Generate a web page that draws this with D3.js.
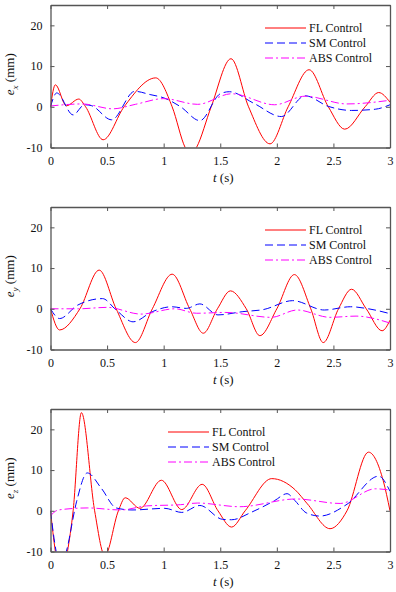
<!DOCTYPE html>
<html>
<head>
<meta charset="utf-8">
<script src="https://cdn.jsdelivr.net/npm/d3@7"></script>
<style>
  body { margin: 0; background: #fff; }
  svg text { font-family: "Liberation Serif", "Times New Roman", "DejaVu Serif", serif; }
</style>
</head>
<body>
<svg id="chart" width="396" height="592"></svg>
<script>
// series names and tick labels
const seriesNames = ["FL Control", "SM Control", "ABS Control"];
const xTicks = [0, 0.5, 1, 1.5, 2, 2.5, 3];
const yTicks = [-10, 0, 10, 20];

// e_x panel, [t (s), error (mm)]
const exFL = [[0,0],[0.043,5.4],[0.14,0.25],[0.25,1.9],[0.31,0],[0.465,-8.1],[0.65,0],[0.93,7.1],
  [1.075,0],[1.19,-10],[1.24,-12],[1.29,-10],[1.42,0],[1.595,11.8],[1.75,0],[1.94,-9.1],[2.1,0],
  [2.285,9.1],[2.455,0],[2.6,-5.5],[2.78,0],[2.9,3.5],[3.0,1.1]];
const exSM = [[0,0],[0.055,3.4],[0.2,-2],[0.3,0.5],[0.36,0.3],[0.54,-3.2],[0.745,3.8],[0.88,3.0],
  [1.01,2.1],[1.15,0],[1.32,-3.4],[1.5,3.2],[1.58,3.7],[1.8,0.8],[2.04,-2.4],[2.25,2.7],
  [2.455,0.1],[2.66,-0.9],[2.87,-0.6],[3.0,0.5]];
const exABS = [[0,0.2],[0.28,0.7],[0.55,-0.5],[0.75,0.6],[1.0,2.0],[1.3,0.6],[1.6,3.2],[1.98,0.5],
  [2.25,2.6],[2.62,0.7],[3.0,1.6]];

// e_y panel
const eyFL = [[0,0],[0.08,-5.2],[0.26,0],[0.43,9.5],[0.58,0],[0.75,-8.3],[0.9,0],[1.075,8.5],
  [1.23,0],[1.35,-6],[1.475,0],[1.59,4.4],[1.73,0],[1.85,-6.6],[2.0,0],[2.155,8.4],[2.3,0],
  [2.41,-8.3],[2.545,0],[2.66,4.8],[2.79,0],[2.93,-5.4],[3.0,-2.8]];
const eySM = [[0,0],[0.08,-2.4],[0.24,0.9],[0.46,2.5],[0.58,-0.3],[0.73,-3.2],[0.9,-0.7],
  [1.07,0.5],[1.2,0.1],[1.32,1.2],[1.48,-1.5],[1.7,-0.7],[1.88,-0.2],[2.14,2.0],[2.42,-0.3],
  [2.65,0.5],[2.81,0],[3.0,-1.2]];
const eyABS = [[0,0],[0.25,0],[0.5,0.35],[0.8,-1.3],[1.1,0],[1.29,-1.1],[1.55,-0.9],[1.95,-2.1],
  [2.18,-0.3],[2.47,-2.1],[2.7,-1.8],[3.0,-3.5]];

// e_z panel
const ezFL = [[0,0],[0.043,-10],[0.095,-17],[0.15,-10],[0.2,0],[0.273,24.1],[0.39,0],[0.48,-11],
  [0.6,0],[0.66,3.2],[0.79,0.6],[0.98,7.5],[1.16,0.3],[1.34,6.5],[1.48,0],[1.6,-4.0],[1.72,0],
  [1.955,7.9],[2.16,5.2],[2.27,1.7],[2.47,-4.4],[2.62,0],[2.81,14.4],[2.94,7.4],[3.0,0]];
const ezSM = [[0,0],[0.05,-10],[0.09,-14],[0.14,-10],[0.23,2.2],[0.325,9.3],[0.45,5.5],[0.58,0.7],
  [0.72,0.2],[1.01,0.6],[1.16,-0.4],[1.32,1.3],[1.52,-2.1],[1.6,-2.2],[1.78,-0.3],[1.98,2.5],
  [2.09,4.2],[2.16,2.5],[2.26,-0.5],[2.38,-1.3],[2.62,1.6],[2.9,8.5],[3.0,4.8]];
const ezABS = [[0,-1.2],[0.07,0.2],[0.33,0.7],[0.62,0.2],[0.85,1.2],[1.15,1.5],[1.3,1.9],
  [1.67,1.0],[2.17,2.9],[2.56,1.8],[2.87,5.4],[3.0,5.1]];

const svg = d3.select("#chart");
const serif = '"Liberation Serif", "Times New Roman", "DejaVu Serif", serif';
const colors = ["#ff0000", "#0000ff", "#ff00ff"];
const dashes = [null, "8,4", "8,3,2,3"];
const axisColor = "#555";

const panels = [
  { sub: "x", top: 5, series: [exFL, exSM, exABS], legendX: 265 },
  { sub: "y", top: 207, series: [eyFL, eySM, eyABS], legendX: 265 },
  { sub: "z", top: 409, series: [ezFL, ezSM, ezABS], legendX: 168 }
];

const left = 50.5, right = 390, plotH = 142.5;
const xScale = d3.scaleLinear().domain([0, 3]).range([left, right]);

panels.forEach((p, pi) => {
  const yScale = d3.scaleLinear().domain([-10, 25]).range([p.top + plotH, p.top]);
  const g = svg.append("g");

  // Clip the curves to the plot box
  const clipId = "clip" + pi;
  svg.append("clipPath").attr("id", clipId).append("rect")
    .attr("x", left).attr("y", p.top)
    .attr("width", right - left).attr("height", plotH);

  const line = d3.line()
    .x(d => xScale(d[0]))
    .y(d => yScale(d[1]))
    .curve(d3.curveMonotoneX);

  const lines = g.append("g").attr("clip-path", `url(#${clipId})`);
  p.series.forEach((s, i) => {
    lines.append("path")
      .attr("d", line(s))
      .attr("fill", "none")
      .attr("stroke", colors[i])
      .attr("stroke-width", 1)
      .attr("stroke-dasharray", dashes[i]);
  });

  // Axes: ticks inward on all four sides
  const bottom = p.top + plotH;
  const fmt = d => String(d);
  const axB = d3.axisBottom(xScale).tickValues(xTicks).tickFormat(fmt).tickSizeInner(-4).tickSizeOuter(0).tickPadding(9);
  const axT = d3.axisTop(xScale).tickValues(xTicks).tickSizeInner(-4).tickSizeOuter(0).tickFormat("");
  const axL = d3.axisLeft(yScale).tickValues(yTicks).tickFormat(fmt).tickSizeInner(-4).tickSizeOuter(0).tickPadding(8);
  const axR = d3.axisRight(yScale).tickValues(yTicks).tickSizeInner(-4).tickSizeOuter(0).tickFormat("");

  const axes = [
    g.append("g").attr("transform", `translate(0,${bottom})`).call(axB),
    g.append("g").attr("transform", `translate(0,${p.top})`).call(axT),
    g.append("g").attr("transform", `translate(${left},0)`).call(axL),
    g.append("g").attr("transform", `translate(${right},0)`).call(axR)
  ];
  axes.forEach(a => {
    a.attr("font-family", null);
    a.select(".domain").attr("stroke", axisColor).attr("stroke-width", 1.3);
    a.selectAll(".tick line").attr("stroke", axisColor).attr("stroke-width", 1);
    a.selectAll(".tick text")
      .style("font-family", serif)
      .style("font-size", "12px")
      .attr("fill", "#111");
  });

  // x label
  const xl = g.append("text")
    .attr("x", (left + right) / 2 + 3)
    .attr("y", bottom + 34)
    .attr("text-anchor", "middle")
    .style("font-family", serif)
    .style("font-size", "13px")
    .attr("fill", "#111");
  xl.append("tspan").attr("font-style", "italic").text("t");
  xl.append("tspan").text(" (s)");

  // y label
  const yl = g.append("text")
    .attr("transform", `translate(14,${p.top + plotH / 2 - 2}) rotate(-90)`)
    .attr("text-anchor", "middle")
    .style("font-family", serif)
    .style("font-size", "13px")
    .attr("fill", "#111");
  yl.append("tspan").attr("font-style", "italic").text("e");
  yl.append("tspan").attr("font-style", "italic").style("font-size", "9px").attr("dy", 4).text(p.sub);
  yl.append("tspan").attr("dy", -4).text(" (mm)");

  // legend
  const leg = g.append("g");
  seriesNames.forEach((name, i) => {
    const ly = p.top + 23 + i * 15;
    leg.append("line")
      .attr("x1", p.legendX).attr("x2", p.legendX + 41)
      .attr("y1", ly).attr("y2", ly)
      .attr("stroke", colors[i])
      .attr("stroke-width", 1)
      .attr("stroke-dasharray", dashes[i]);
    leg.append("text")
      .attr("x", p.legendX + 44)
      .attr("y", ly + 4)
      .style("font-family", serif)
      .style("font-size", "12px")
      .attr("fill", "#111")
      .text(name);
  });
});
</script>
</body>
</html>
